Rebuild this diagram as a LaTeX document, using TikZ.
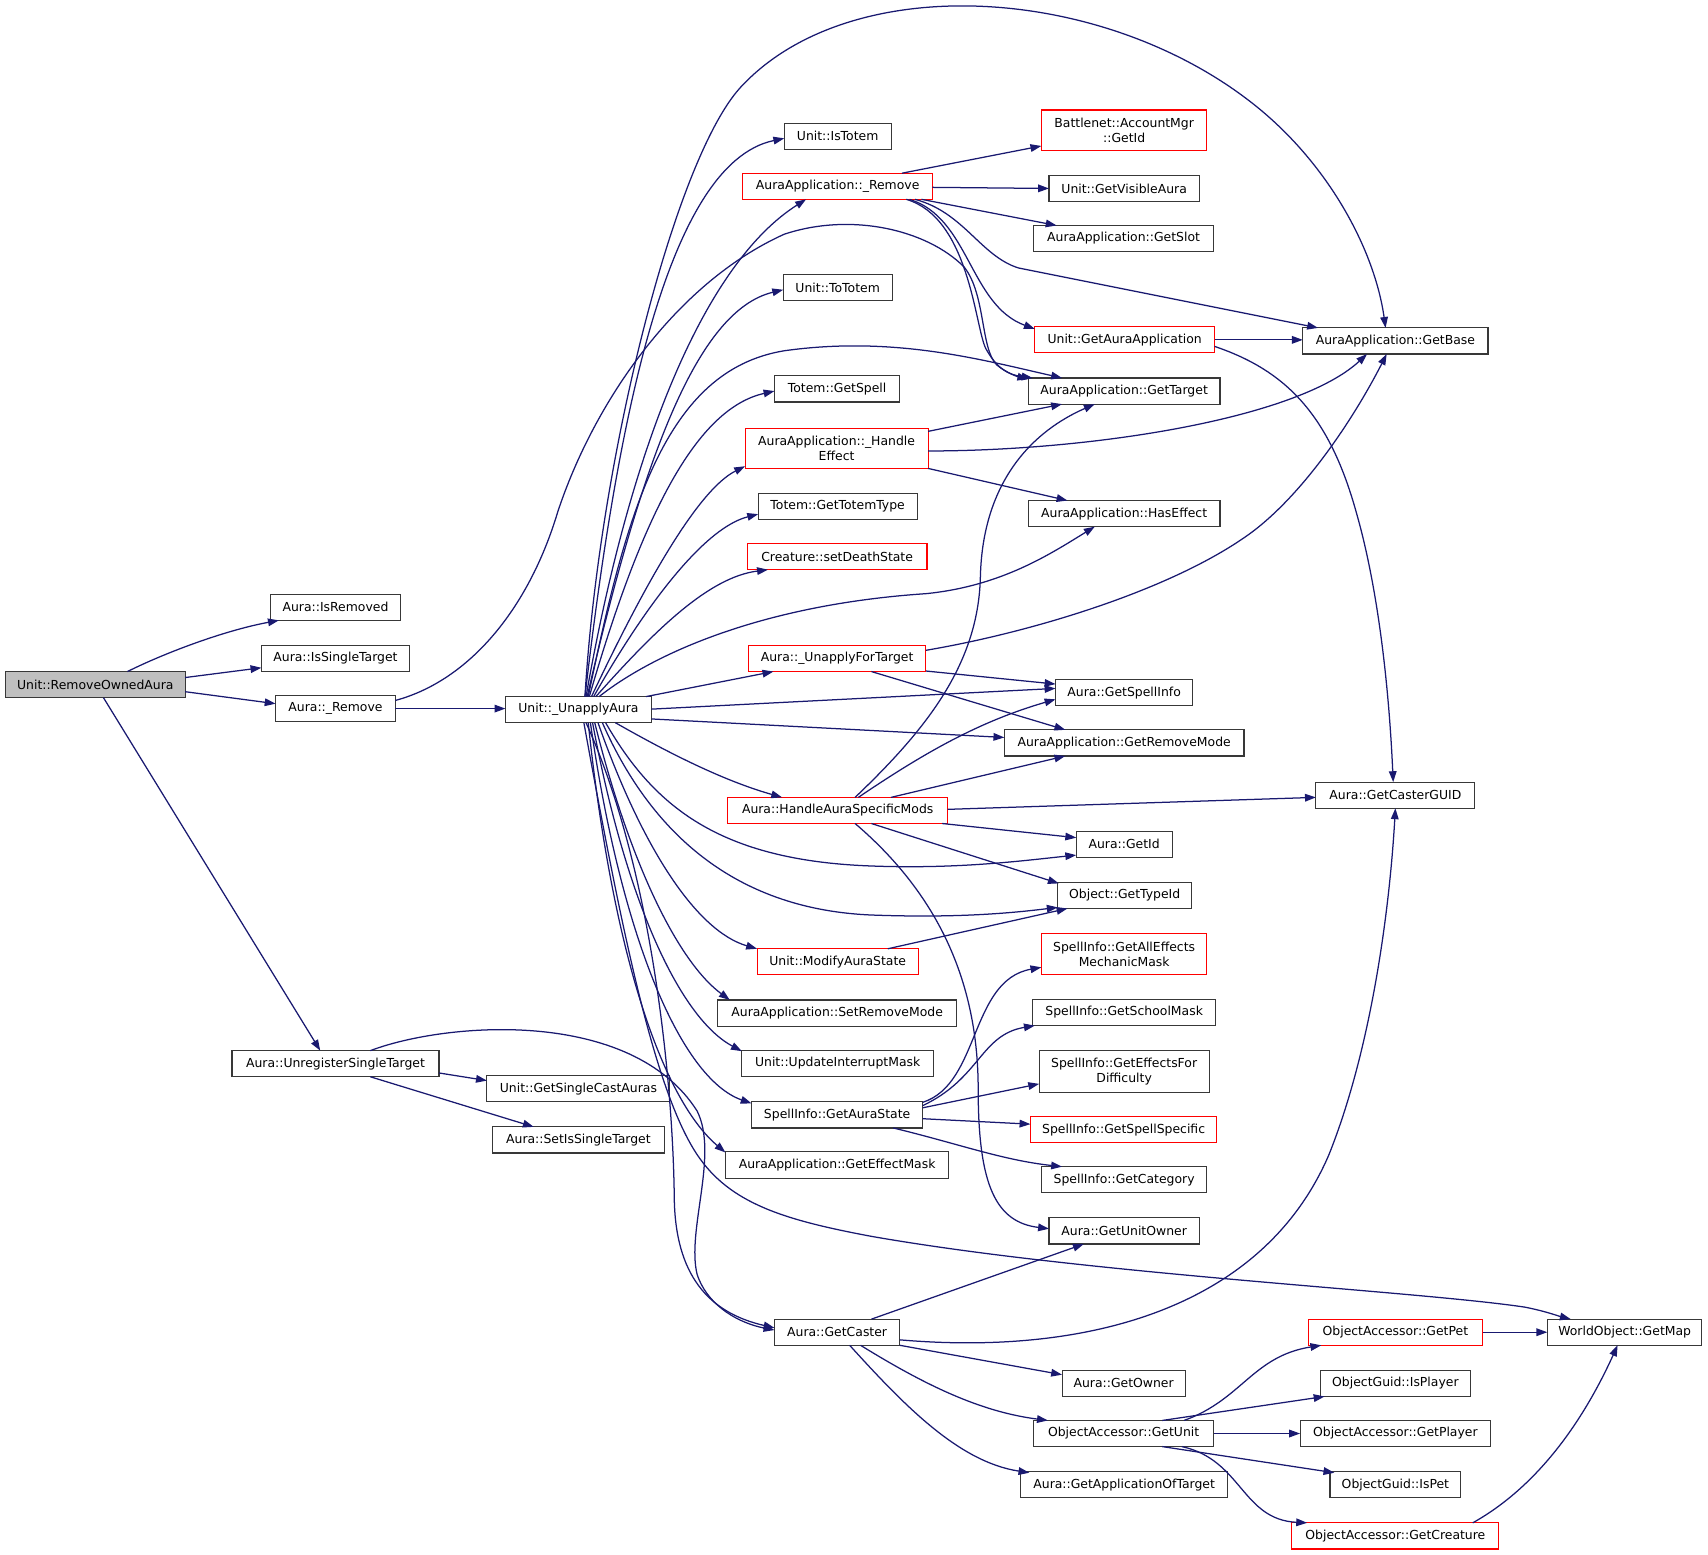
\documentclass[tikz,border=0pt]{standalone}
\usepackage{fontspec}
\setmainfont{DejaVu Sans}
\usetikzlibrary{arrows.meta,calc}
\definecolor{edgec}{HTML}{191970}
\definecolor{boxred}{HTML}{FF0000}
\definecolor{boxgray}{HTML}{BFBFBF}
\begin{document}
\begin{tikzpicture}[x=1pt,y=-1pt,
  nb/.style={draw=black!78, line width=1pt, fill=white, rectangle, minimum height=24pt,
    inner xsep=3pt, inner ysep=3pt, align=center, font=\fontsize{11.4}{14}\selectfont},
  nr/.style={nb, draw=boxred},
  ng/.style={nb, fill=boxgray},
  ed/.style={draw=edgec, line width=1.15pt, -{Triangle[length=10pt,width=7pt]}}]
\useasboundingbox (0,0) rectangle (1568,1427.5);
% nodes
\node[ng, minimum width=165pt] (roa) at (87.5,628.5) {Unit::RemoveOwnedAura};
\node[nb, minimum width=120pt] (ir) at (308,557.5) {Aura::IsRemoved};
\node[nb, minimum width=136pt] (ist) at (308,604.5) {Aura::IsSingleTarget};
\node[nb, minimum width=110pt] (arem) at (308,650.5) {Aura::\_Remove};
\node[nb, minimum width=190pt] (ust) at (308,976.5) {Aura::UnregisterSingleTarget};
\node[nb, minimum width=134pt] (uua) at (531,651.5) {Unit::\_UnapplyAura};
\node[nb, minimum width=168pt] (ugsca) at (531,999.5) {Unit::GetSingleCastAuras};
\node[nb, minimum width=158pt] (asist) at (531,1046.5) {Aura::SetIsSingleTarget};
\node[nb, minimum width=98pt] (uit) at (769,125) {Unit::IsTotem};
\node[nr, minimum width=174pt] (aarem) at (769,171) {AuraApplication::\_Remove};
\node[nb, minimum width=100pt] (utt) at (769,264) {Unit::ToTotem};
\node[nb, minimum width=115pt] (tgs) at (768.5,357) {Totem::GetSpell};
\node[nr, minimum width=168pt, minimum height=37pt] (aahe) at (768,411.5) {AuraApplication::\_Handle\\Effect};
\node[nb, minimum width=146pt] (ttt) at (769,465) {Totem::GetTotemType};
\node[nr, minimum width=165pt] (cds) at (768.5,511) {Creature::setDeathState};
\node[nr, minimum width=163pt] (auft) at (768.5,604.5) {Aura::\_UnapplyForTarget};
\node[nr, minimum width=202pt] (hasm) at (769,744) {Aura::HandleAuraSpecificMods};
\node[nr, minimum width=148pt] (umas) at (769,883) {Unit::ModifyAuraState};
\node[nb, minimum width=219pt] (asrm) at (768.5,930) {AuraApplication::SetRemoveMode};
\node[nb, minimum width=176pt] (uuim) at (769,976) {Unit::UpdateInterruptMask};
\node[nb, minimum width=157pt] (sigas) at (768.5,1023.5) {SpellInfo::GetAuraState};
\node[nb, minimum width=205pt] (aagem) at (768.5,1069.5) {AuraApplication::GetEffectMask};
\node[nb, minimum width=115pt] (agc) at (768.5,1223) {Aura::GetCaster};
\node[nr, minimum width=152pt, minimum height=37pt] (bamg) at (1032,119.5) {Battlenet::AccountMgr\\::GetId};
\node[nb, minimum width=138pt] (ugva) at (1032,173) {Unit::GetVisibleAura};
\node[nb, minimum width=165pt] (aags) at (1031.5,219) {AuraApplication::GetSlot};
\node[nr, minimum width=165pt] (ugaa) at (1032.5,312) {Unit::GetAuraApplication};
\node[nb, minimum width=176pt] (aagt) at (1032,359) {AuraApplication::GetTarget};
\node[nb, minimum width=176pt] (hase) at (1032,471.5) {AuraApplication::HasEffect};
\node[nb, minimum width=126pt] (gsi) at (1032,636) {Aura::GetSpellInfo};
\node[nb, minimum width=220pt] (grm) at (1032,682) {AuraApplication::GetRemoveMode};
\node[nb, minimum width=88pt] (agid) at (1032,775) {Aura::GetId};
\node[nb, minimum width=123pt] (ogti) at (1032.5,822) {Object::GetTypeId};
\node[nr, minimum width=152pt, minimum height=38pt] (sgaem) at (1032,876) {SpellInfo::GetAllEffects\\MechanicMask};
\node[nb, minimum width=168pt] (sgsm) at (1032,929.5) {SpellInfo::GetSchoolMask};
\node[nb, minimum width=156pt, minimum height=39pt] (sgefd) at (1032,983.5) {SpellInfo::GetEffectsFor\\Difficulty};
\node[nr, minimum width=171pt] (sgss) at (1031.5,1037) {SpellInfo::GetSpellSpecific};
\node[nb, minimum width=152pt] (sgcat) at (1032,1083) {SpellInfo::GetCategory};
\node[nb, minimum width=138pt] (guo) at (1032,1130) {Aura::GetUnitOwner};
\node[nb, minimum width=113pt] (ago) at (1031.5,1270) {Aura::GetOwner};
\node[nb, minimum width=165pt] (oagu) at (1031.5,1316) {ObjectAccessor::GetUnit};
\node[nb, minimum width=190pt] (agaot) at (1032,1363) {Aura::GetApplicationOfTarget};
\node[nb, minimum width=170pt] (aagb) at (1281,313) {AuraApplication::GetBase};
\node[nb, minimum width=146pt] (agcg) at (1281,730) {Aura::GetCasterGUID};
\node[nr, minimum width=160pt] (oagp) at (1281,1223) {ObjectAccessor::GetPet};
\node[nb, minimum width=138pt] (ogip) at (1281,1270) {ObjectGuid::IsPlayer};
\node[nb, minimum width=174pt] (oagpl) at (1281,1316) {ObjectAccessor::GetPlayer};
\node[nb, minimum width=120pt] (ogipet) at (1281,1363) {ObjectGuid::IsPet};
\node[nr, minimum width=190pt] (oagc) at (1281,1410) {ObjectAccessor::GetCreature};
\node[nb, minimum width=141pt] (wogm) at (1491.5,1223) {WorldObject::GetMap};
% edges from Unit::RemoveOwnedAura
\draw[ed] ($(roa)+(29.5,-12)$) .. controls (150,600) and (205,579) .. ($(ir)+(-52,12)$);
\draw[ed] ($(roa)+(82.5,-6.5)$) -- ($(ist)+(-68,8.5)$);
\draw[ed] ($(roa)+(82.5,6.5)$) -- ($(arem)+(-55,-4.5)$);
\draw[ed] ($(roa)+(7.5,12)$) -- ($(ust)+(-14,-12)$);
% Aura::_Remove
\draw[ed] ($(arem)+(55,0)$) -- ($(uua)+(-67,-1)$);
\draw[ed] ($(arem)+(55,-7.5)$) .. controls (430,625) and (485,560) .. (512,470)
  .. controls (545,370) and (620,260) .. (720,215)
  .. controls (780,195) and (850,210) .. (885,245)
  .. controls (905,270) and (900,320) .. (915,335)
  .. controls (925,343) and (935,346) .. ($(aagt)+(-88,-11)$);
% Unit::_UnapplyAura
\draw[ed] ($(uua)+(6,-12)$) .. controls (550,420) and (620,145) .. (680,80)
  .. controls (780,-28) and (1010,-15) .. (1150,95)
  .. controls (1220,150) and (1262,230) .. ($(aagb)+(-9,-12)$);
\draw[ed] ($(uua)+(6,-12)$) .. controls (565,400) and (610,150) .. ($(uit)+(-49,2)$);
\draw[ed] ($(uua)+(7,-12)$) .. controls (580,400) and (650,240) .. ($(aarem)+(-29,12)$);
\draw[ed] ($(uua)+(8,-12)$) .. controls (590,420) and (640,285) .. ($(utt)+(-50,2)$);
\draw[ed] ($(uua)+(9,-12)$) .. controls (575,470) and (610,340) .. (720,322)
  .. controls (820,308) and (900,330) .. ($(aagt)+(-57,-12)$);
\draw[ed] ($(uua)+(10,-12)$) .. controls (590,470) and (640,375) .. ($(tgs)+(-57.5,2)$);
\draw[ed] ($(uua)+(12,-12)$) .. controls (590,540) and (640,450) .. ($(aahe)+(-84,16.5)$);
\draw[ed] ($(uua)+(14,-12)$) .. controls (590,560) and (645,485) .. ($(ttt)+(-73,7)$);
\draw[ed] ($(uua)+(16,-12)$) .. controls (600,580) and (650,530) .. ($(cds)+(-63.5,12)$);
\draw[ed] ($(uua)+(19,-12)$) .. controls (600,600) and (700,555) .. (850,545)
  .. controls (920,538) and (965,508) .. ($(hase)+(-27,12)$);
\draw[ed] ($(uua)+(62,-12)$) -- ($(auft)+(-58.5,12)$);
\draw[ed] ($(uua)+(67,-0.5)$) -- ($(gsi)+(-63,-4)$);
\draw[ed] ($(uua)+(67,8.5)$) -- ($(grm)+(-110,-5)$);
\draw[ed] ($(uua)+(34,12)$) .. controls (615,692) and (665,717) .. ($(hasm)+(-51,-12)$);
\draw[ed] ($(uua)+(25,12)$) .. controls (600,740) and (660,790) .. (800,795)
  .. controls (880,798) and (940,790) .. ($(agid)+(-44,10)$);
\draw[ed] ($(uua)+(22,12)$) .. controls (600,770) and (680,835) .. (800,840)
  .. controls (880,843) and (930,838) .. ($(ogti)+(-61.5,11)$);
\draw[ed] ($(uua)+(18,12)$) .. controls (590,780) and (640,855) .. ($(umas)+(-74,-12)$);
\draw[ed] ($(uua)+(15,12)$) .. controls (580,800) and (625,885) .. ($(asrm)+(-98.5,-12)$);
\draw[ed] ($(uua)+(13,12)$) .. controls (575,830) and (625,935) .. ($(uuim)+(-88,-11)$);
\draw[ed] ($(uua)+(11,12)$) .. controls (570,860) and (625,990) .. ($(sigas)+(-78.5,-10.5)$);
\draw[ed] ($(uua)+(9,12)$) .. controls (565,900) and (615,1015) .. ($(aagem)+(-102.5,-11.5)$);
\draw[ed] ($(uua)+(7,12)$) .. controls (600,800) and (618,1000) .. (619,1100)
  .. controls (620,1170) and (650,1205) .. ($(agc)+(-57.5,-4)$);
\draw[ed] ($(uua)+(5,12)$) .. controls (570,850) and (600,1000) .. (640,1060)
  .. controls (670,1105) and (720,1120) .. (800,1135)
  .. controls (1000,1170) and (1300,1185) .. (1400,1200)
  .. controls (1420,1204) and (1430,1208) .. ($(wogm)+(-49.5,-12)$);
% Aura::UnregisterSingleTarget
\draw[ed] ($(ust)+(95,8.5)$) -- ($(ugsca)+(-84,-7.5)$);
\draw[ed] ($(ust)+(32,12)$) -- ($(asist)+(-41,-12)$);
\draw[ed] ($(ust)+(32,-12)$) .. controls (410,938) and (580,925) .. (640,1020)
  .. controls (660,1060) and (630,1130) .. (640,1170)
  .. controls (650,1200) and (680,1215) .. ($(agc)+(-57.5,-2)$);
% AuraApplication::_Remove
\draw[ed] ($(aarem)+(59,-12)$) -- ($(bamg)+(-76,14.5)$);
\draw[ed] ($(aarem)+(87,1)$) -- ($(ugva)+(-69,0)$);
\draw[ed] ($(aarem)+(77,12)$) -- ($(aags)+(-61.5,-12)$);
\draw[ed] ($(aarem)+(71,12)$) .. controls (885,195) and (900,235) .. (935,246) -- ($(aagb)+(-71,-12)$);
\draw[ed] ($(aarem)+(66,12)$) .. controls (890,200) and (890,280) .. ($(ugaa)+(-82.5,-10)$);
\draw[ed] ($(aarem)+(63,12)$) .. controls (890,200) and (895,300) .. (905,320)
  .. controls (915,338) and (925,344) .. ($(aagt)+(-84,-12)$);
% Unit::GetAuraApplication
\draw[ed] ($(ugaa)+(82.5,0)$) -- ($(aagb)+(-85,-1)$);
\draw[ed] ($(ugaa)+(82.5,6)$) .. controls (1180,340) and (1220,380) .. (1245,470)
  .. controls (1268,550) and (1276,650) .. ($(agcg)+(-2,-12)$);
% AuraApplication::_HandleEffect
\draw[ed] ($(aahe)+(84,-15.5)$) -- ($(aagt)+(-57,12)$);
\draw[ed] ($(aahe)+(84,2.5)$) .. controls (1000,414) and (1190,385) .. ($(aagb)+(-26,12)$);
\draw[ed] ($(aahe)+(84,18.5)$) -- ($(hase)+(-52,-12)$);
% Aura::_UnapplyForTarget
\draw[ed] ($(auft)+(81.5,-7.5)$) .. controls (950,580) and (1080,540) .. (1150,488)
  .. controls (1200,450) and (1245,380) .. ($(aagb)+(-8,12)$);
\draw[ed] ($(auft)+(81.5,11.5)$) -- ($(gsi)+(-63,-8)$);
\draw[ed] ($(auft)+(31.5,12)$) -- ($(grm)+(-54,-12)$);
% Aura::HandleAuraSpecificMods
\draw[ed] ($(hasm)+(16,-12)$) .. controls (850,670) and (898,610) .. (900,530)
  .. controls (902,440) and (950,395) .. ($(aagt)+(-27,12)$);
\draw[ed] ($(hasm)+(19,-12)$) .. controls (850,690) and (900,662) .. ($(gsi)+(-63,6)$);
\draw[ed] ($(hasm)+(49,-12)$) -- ($(grm)+(-54,12)$);
\draw[ed] ($(hasm)+(101,-1)$) -- ($(agcg)+(-73,2)$);
\draw[ed] ($(hasm)+(96,12)$) -- ($(agid)+(-44,-6)$);
\draw[ed] ($(hasm)+(31,12)$) -- ($(ogti)+(-60.5,-11)$);
\draw[ed] ($(hasm)+(16,12)$) .. controls (860,820) and (898,900) .. (898,1000)
  .. controls (898,1090) and (915,1122) .. ($(guo)+(-69,-2)$);
% Unit::ModifyAuraState
\draw[ed] ($(umas)+(46,-12)$) -- ($(ogti)+(-52.5,12)$);
% SpellInfo::GetAuraState
\draw[ed] ($(sigas)+(78.5,-11.5)$) .. controls (900,995) and (890,900) .. ($(sgaem)+(-76,12)$);
\draw[ed] ($(sigas)+(78.5,-8.5)$) .. controls (900,990) and (900,950) .. ($(sgsm)+(-82,12)$);
\draw[ed] ($(sigas)+(78.5,-6.5)$) -- ($(sgefd)+(-78,11.5)$);
\draw[ed] ($(sigas)+(78.5,3.5)$) -- ($(sgss)+(-85.5,-5)$);
\draw[ed] ($(sigas)+(51.5,12)$) .. controls (880,1050) and (920,1065) .. ($(sgcat)+(-57,-12)$);
% Aura::GetCaster
\draw[ed] ($(agc)+(31.5,-12)$) -- ($(guo)+(-37,12)$);
\draw[ed] ($(agc)+(57.5,7)$) .. controls (1000,1245) and (1160,1200) .. (1220,1060)
  .. controls (1260,960) and (1276,830) .. ($(agcg)+(0,12)$);
\draw[ed] ($(agc)+(57.5,12)$) -- ($(ago)+(-56.5,-8)$);
\draw[ed] ($(agc)+(21.5,12)$) .. controls (850,1272) and (900,1296) .. ($(oagu)+(-69.5,-12)$);
\draw[ed] ($(agc)+(11.5,12)$) .. controls (830,1290) and (880,1342) .. ($(agaot)+(-87,-11)$);
% ObjectAccessor::GetUnit
\draw[ed] ($(oagu)+(55.5,-12)$) .. controls (1140,1285) and (1150,1245) .. ($(oagp)+(-68,12)$);
\draw[ed] ($(oagu)+(35.5,-12)$) -- ($(ogip)+(-65,12)$);
\draw[ed] (oagu.east) -- (oagpl.west);
\draw[ed] ($(oagu)+(35.5,12)$) -- ($(ogipet)+(-56,-11)$);
\draw[ed] ($(oagu)+(53.5,12)$) .. controls (1140,1340) and (1140,1395) .. ($(oagc)+(-81,-12)$);
% to WorldObject::GetMap
\draw[ed] (oagp.east) -- (wogm.west);
\draw[ed] ($(oagc)+(71,-12)$) .. controls (1420,1360) and (1460,1290) .. ($(wogm)+(-6.5,12)$);
\end{tikzpicture}
\end{document}
